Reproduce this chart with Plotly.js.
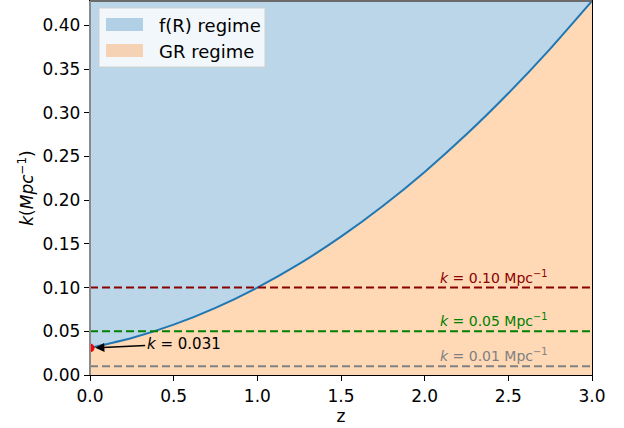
<!DOCTYPE html>
<html>
<head>
<meta charset="utf-8">
<script src="https://cdn.plot.ly/plotly-3.0.1.min.js"></script>
<style>
  html, body { margin: 0; padding: 0; background: #ffffff; }
  #chart { width: 624px; height: 428px; }
</style>
</head>
<body>
<div id="chart"></div>
<script>
// Redshift grid and the transition scale k(z) separating the two regimes
const z = [0.0, 0.25, 0.5, 0.75, 1.0, 1.25, 1.5, 1.75, 2.0, 2.25, 2.5, 2.75, 3.0];
const kTransition = [0.031, 0.0423, 0.0576, 0.0768, 0.100, 0.1271, 0.1583, 0.1934, 0.2324, 0.2754, 0.3224, 0.3733, 0.428];

// Reference scales drawn as dashed horizontal lines
const refScales = [0.10, 0.05, 0.01];
const refColors = ['#8b0000', '#008000', '#808080'];
const refLabels = ['0.10', '0.05', '0.01'];

// Present-day transition scale
const k0 = 0.031;
const k0Label = '0.031';

// Regime names and fill colours (legend order)
const regimeNames = ['f(R) regime', 'GR regime'];
const regimeColors = ['rgba(31,119,180,0.3)', 'rgba(255,127,14,0.3)'];

// Axis ticks and limits
const xTicks = [0.0, 0.5, 1.0, 1.5, 2.0, 2.5, 3.0];
const yTicks = [0.00, 0.05, 0.10, 0.15, 0.20, 0.25, 0.30, 0.35, 0.40];
const zRange = [0, 3];
const kRange = [0, 0.428];

const FONT = 'DejaVu Sans, sans-serif';

const traces = [];

// GR regime: below the curve
traces.push({
  x: z, y: kTransition, type: 'scatter', mode: 'none',
  fill: 'tozeroy', fillcolor: regimeColors[1],
  showlegend: false, hoverinfo: 'skip'
});

// Transition curve
traces.push({
  x: z, y: kTransition, type: 'scatter', mode: 'lines',
  line: { color: '#1f77b4', width: 2, shape: 'spline', smoothing: 0.6 },
  showlegend: false, hoverinfo: 'skip'
});

// f(R) regime: from the curve up to the top of the axes
traces.push({
  x: z, y: z.map(() => kRange[1]), type: 'scatter', mode: 'none',
  fill: 'tonexty', fillcolor: regimeColors[0],
  showlegend: false, hoverinfo: 'skip'
});

// Dashed reference scales
refScales.forEach((v, i) => {
  traces.push({
    x: zRange, y: [v, v], type: 'scatter', mode: 'lines',
    line: { color: refColors[i], width: 2, dash: '8px,4px' },
    showlegend: false, hoverinfo: 'skip'
  });
});

// Present-day point
traces.push({
  x: [0], y: [k0], type: 'scatter', mode: 'markers',
  marker: { color: 'red', size: 9 }, cliponaxis: true,
  showlegend: false, hoverinfo: 'skip'
});

const annotations = refScales.map((v, i) => ({
  x: 2.745, y: v, xref: 'x', yref: 'y',
  xanchor: 'right', yanchor: 'bottom', yshift: 0,
  showarrow: false,
  text: '<i>k</i> = ' + refLabels[i] + ' Mpc<sup>−1</sup>',
  font: { family: FONT, size: 14, color: refColors[i] }
}));

annotations.push({
  x: 0.02, y: k0, xref: 'x', yref: 'y',
  ax: 0.56, ay: 0.0358, axref: 'x', ayref: 'y',
  text: '<i>k</i> = ' + k0Label,
  showarrow: true, arrowhead: 2, arrowsize: 1.2, arrowwidth: 1.5, arrowcolor: '#000',
  standoff: 2,
  font: { family: FONT, size: 15, color: '#000' }
});

// Hand-placed legend (paper coordinates of the plot area)
const legendBox = { x0: 0.0179, x1: 0.3486, y0: 0.8235, y1: 0.9813 };
const swatchX = [0.0319, 0.1056];
const swatchY = [[0.9198, 0.9545], [0.8503, 0.8850]];
const labelY = [0.9358, 0.8663];

const shapes = [
  { type: 'rect', xref: 'paper', yref: 'paper',
    x0: legendBox.x0, x1: legendBox.x1, y0: legendBox.y0, y1: legendBox.y1,
    fillcolor: 'rgba(255,255,255,0.8)', line: { color: '#d0d0d0', width: 1 } }
];
regimeNames.forEach((name, i) => {
  shapes.push({ type: 'rect', xref: 'paper', yref: 'paper',
    x0: swatchX[0], x1: swatchX[1], y0: swatchY[i][0], y1: swatchY[i][1],
    fillcolor: regimeColors[i], line: { width: 0 } });
  annotations.push({ x: 0.1335, y: labelY[i], xref: 'paper', yref: 'paper',
    xanchor: 'left', yanchor: 'middle', showarrow: false, text: name,
    font: { family: FONT, size: 18, color: '#000' } });
});

// Top and left frame edges
shapes.push(
  { type: 'line', xref: 'paper', yref: 'paper', x0: 0, x1: 1, y0: 1, y1: 1,
    line: { color: '#6b6b6b', width: 2 } },
  { type: 'line', xref: 'paper', yref: 'paper', x0: 0, x1: 0, y0: 0, y1: 1,
    line: { color: '#8a8a8a', width: 2 } }
);

const layout = {
  width: 624, height: 428,
  margin: { l: 90, r: 32, t: 1, b: 53 },
  paper_bgcolor: '#ffffff', plot_bgcolor: '#ffffff',
  font: { family: FONT, size: 17, color: '#000' },
  showlegend: false,
  xaxis: {
    range: zRange, tickvals: xTicks, ticktext: xTicks.map(v => v.toFixed(1)),
    ticks: 'outside', ticklen: 5, tickwidth: 1, tickcolor: '#000',
    showgrid: false, zeroline: false,
    showline: true, linecolor: '#000', linewidth: 1.2, mirror: true,
    tickfont: { family: FONT, size: 17 },
    title: { text: 'z', font: { family: FONT, size: 17 }, standoff: 5 }
  },
  yaxis: {
    range: kRange, tickvals: yTicks, ticktext: yTicks.map(v => v.toFixed(2)),
    ticks: 'outside', ticklen: 5, tickwidth: 1, tickcolor: '#000',
    showgrid: false, zeroline: false,
    showline: true, linecolor: '#000', linewidth: 1.2, mirror: true,
    tickfont: { family: FONT, size: 17 },
    title: { text: '<i>k</i>(<i>Mpc</i><sup>−1</sup>)', font: { family: FONT, size: 17 }, standoff: 4 }
  },
  annotations: annotations,
  shapes: shapes
};

Plotly.newPlot('chart', traces, layout, { displayModeBar: false, staticPlot: true });
</script>
</body>
</html>
